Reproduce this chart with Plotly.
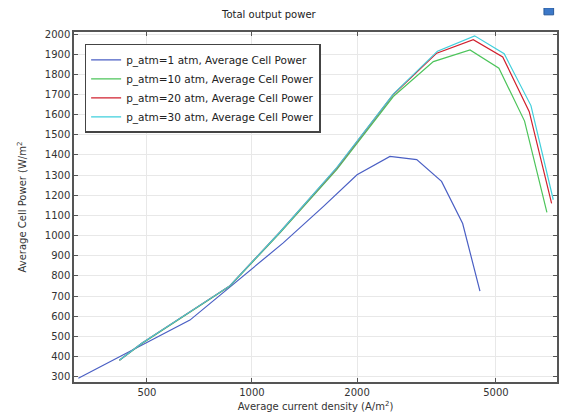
import plotly.graph_objects as go

# Data
cur_1atm = [318, 664, 1229, 1600, 2000, 2485, 2965, 3493, 4015, 4500]
pow_1atm = [293, 581, 964, 1144, 1302, 1393, 1377, 1269, 1060, 725]

cur_10atm = [417, 483, 865, 1203, 1749, 2540, 3309, 4215, 5100, 6040, 7000]
pow_10atm = [382, 464, 750, 1014, 1327, 1690, 1863, 1921, 1830, 1568, 1115]

cur_20atm = [417, 483, 865, 1203, 1749, 2540, 3383, 4306, 5230, 6230, 7220]
pow_20atm = [382, 466, 752, 1018, 1335, 1700, 1905, 1972, 1886, 1615, 1160]

cur_30atm = [417, 483, 865, 1203, 1749, 2540, 3400, 4345, 5280, 6300, 7300]
pow_30atm = [382, 466, 752, 1018, 1337, 1702, 1915, 1991, 1902, 1645, 1178]

series_names = [
    "p_atm=1 atm, Average Cell Power",
    "p_atm=10 atm, Average Cell Power",
    "p_atm=20 atm, Average Cell Power",
    "p_atm=30 atm, Average Cell Power",
]
series_colors = ["#4a5fc4", "#4cc45a", "#d0202e", "#3fcfdc"]

x_ticks = [500, 1000, 2000, 5000]
y_ticks = list(range(300, 2001, 100))

FONT = "DejaVu Sans"

fig = go.Figure()
for xs, ys, name, col in zip(
    [cur_1atm, cur_10atm, cur_20atm, cur_30atm],
    [pow_1atm, pow_10atm, pow_20atm, pow_30atm],
    series_names, series_colors,
):
    fig.add_trace(go.Scatter(x=xs, y=ys, mode="lines", name=name,
                             line=dict(color=col, width=1.2)))

axis_common = dict(
    showline=True, linecolor="#555555", linewidth=1.5, mirror="ticks",
    ticks="inside", ticklen=4, tickcolor="#555555", tickwidth=1,
    showgrid=True, gridcolor="#e8e8e8", gridwidth=1, zeroline=False,
    automargin=False,
    tickfont=dict(family=FONT, size=10, color="#333333"),
)

# page body has an 8px default margin, so the figure is sized to fit
fig.update_layout(
    width=561, height=410,
    margin=dict(l=66, r=12, t=24, b=36, autoexpand=False),
    paper_bgcolor="white", plot_bgcolor="white",
    font=dict(family=FONT, size=10, color="#333333"),
    title=dict(text="Total output power", x=0.465, xanchor="center",
               y=0.983, yanchor="middle", automargin=False,
               font=dict(family=FONT, size=10, color="#222222")),
    xaxis=dict(type="log", range=[2.490, 3.874], tickvals=x_ticks,
               ticktext=[str(t) for t in x_ticks],
               title=dict(text="Average current density (A/m<sup>2</sup>)",
                          font=dict(family=FONT, size=10, color="#333333"),
                          standoff=6),
               **axis_common),
    yaxis=dict(range=[274, 2010], tickvals=y_ticks,
               title=dict(text="Average Cell Power (W/m<sup>2</sup>",
                          font=dict(family=FONT, size=10, color="#333333"),
                          standoff=16),
               **axis_common),
    legend=dict(x=0.022, y=0.966, xanchor="left", yanchor="top",
                bgcolor="white", bordercolor="#444444", borderwidth=1.5,
                font=dict(family=FONT, size=10.5, color="#222222"),
                tracegroupgap=0, itemwidth=30),
    showlegend=True,
)

# small icon at top-right corner
fig.add_shape(type="rect", xref="paper", yref="paper",
              x0=0.973, x1=0.993, y0=1.049, y1=1.069,
              fillcolor="#3c78c8", line=dict(color="#2a5a9a", width=1))

fig.write_html("out.html")
